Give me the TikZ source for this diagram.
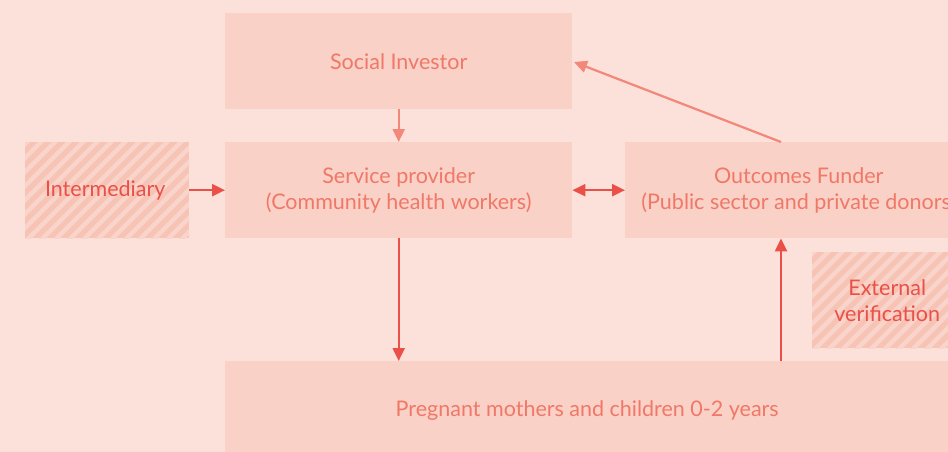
\documentclass[tikz,border=0pt]{standalone}
\usepackage{fontspec}
\setmainfont{Lato}
\usetikzlibrary{arrows.meta}
\definecolor{bg}{HTML}{FBE1D9}
\definecolor{boxc}{HTML}{F9D1C6}
\definecolor{hatchA}{HTML}{F7C3B5}
\definecolor{hatchB}{HTML}{F9D4CA}
\definecolor{salmon}{HTML}{F2877A}
\definecolor{boxtext}{HTML}{F07868}
\definecolor{redc}{HTML}{EA5048}
\tikzset{
  box/.style={fill=boxc, draw=none, minimum width=347pt, minimum height=96pt, anchor=north west, inner sep=0pt, align=center, font=\fontsize{21.5}{26}\selectfont, text=boxtext},
  hbox/.style={fill=none, draw=none, minimum width=164pt, minimum height=96pt, anchor=north west, inner sep=0pt, align=center, font=\fontsize{21.5}{26}\selectfont, text=redc},
  lightarrow/.style={draw=salmon, line width=2.2pt, -{Triangle[length=13pt,width=12pt]}},
  redarrow/.style={draw=redc, line width=2.2pt, -{Triangle[length=13pt,width=12pt]}},
}
\begin{document}
\begin{tikzpicture}[x=1pt,y=-1pt]
\fill[bg] (0,0) rectangle (948,452);
\useasboundingbox (0,0) rectangle (948,452);

% hatched boxes
\foreach \x/\y in {25/142, 812/252}{
  \begin{scope}
    \clip (\x,\y) rectangle ++(164,96);
    \fill[hatchA] (\x,\y) rectangle ++(164,96);
    \foreach \k in {-8,...,20}{
      \draw[hatchB, line width=4.5pt] ({\x+\k*14},{\y+100}) -- ++(110,-110);
    }
  \end{scope}
}
\node[hbox, minimum width=160pt] (inter) at (25,142) {Intermediary};
\node[hbox, minimum width=150pt] (ext) at (812,252) {External\\verification};

\node[box] (si) at (225,13) {\raisebox{-3pt}{Social Investor}};
\node[box] (sp) at (225,142) {Service provider\\(Community health workers)};
\node[box] (of) at (625,142) {Outcomes Funder\\(Public sector and private donors)};
\node[box, minimum width=724pt, minimum height=98pt] (pm) at (225,361) {\raisebox{-2pt}{Pregnant mothers and children 0-2 years}};

\coordinate (ofTop) at (781,142);
\coordinate (siRight) at (574,62);
\draw[lightarrow] (si.south) -- (sp.north);
\draw[lightarrow] (ofTop) -- (siRight);
\draw[redarrow] (inter.east -| 189,0) -- (sp.west);
\draw[redarrow, {Triangle[length=13pt,width=12pt]}-{Triangle[length=13pt,width=12pt]}] (sp.east) -- (of.west);
\draw[redarrow] (sp.south) -- (pm.north -| sp.south);
\draw[redarrow] (pm.north -| ofTop) -- (of.south -| ofTop);
\end{tikzpicture}
\end{document}
